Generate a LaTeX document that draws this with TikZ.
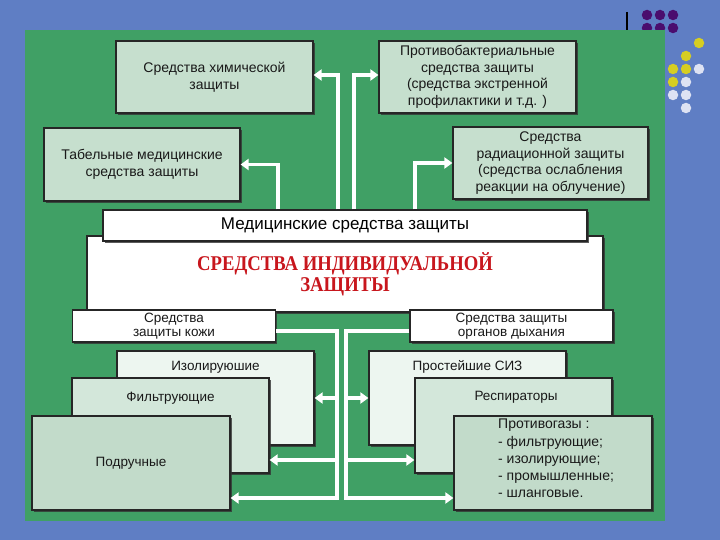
\documentclass[tikz,border=0pt]{standalone}
\usepackage{fontspec}
\setmainfont{Liberation Sans}
\newfontfamily\titlefont[FakeStretch=0.89]{Liberation Serif}
\usetikzlibrary{arrows.meta,shadows}
\definecolor{slideblue}{HTML}{5F7EC4}
\definecolor{panelgreen}{HTML}{40A065}
\definecolor{boxgreen}{HTML}{C6DFCE}
\definecolor{palegreen}{HTML}{EDF6F0}
\definecolor{midgreen}{HTML}{D3E7DA}
\definecolor{deepgreen}{HTML}{C2DBCA}
\definecolor{titlered}{HTML}{C8161D}
\definecolor{dotpurple}{HTML}{4A0D6E}
\definecolor{dotyellow}{HTML}{D6CE22}
\definecolor{dotwhite}{HTML}{DDE2F3}
\begin{document}
\begin{tikzpicture}[x=1pt,y=-1pt,
  box/.style={draw=black!85,line width=1.2pt,inner sep=0pt,align=center,text=black!90,
    font=\fontsize{14}{16.5}\selectfont,
    drop shadow={shadow xshift=1.8pt,shadow yshift=-1.8pt,fill=black!80,opacity=.8}},
  txt/.style={inner sep=0pt,text=black!90,font=\fontsize{13.5}{16}\selectfont},
  flow/.style={draw=white,line width=3.8pt,-{Triangle[length=8pt,width=11pt]}},
  dot/.style={circle,inner sep=0pt,minimum size=10.5pt}]
\useasboundingbox (0,0) rectangle (720,540);
\fill[slideblue] (0,0) rectangle (720,540);

\foreach \x/\y in {647/15,660/15,673/15,647/28,660/28,673/28}
  \node[dot,fill=dotpurple] at (\x,\y) {};
\foreach \x/\y in {699/43,686/56,673/69,686/69,673/82}
  \node[dot,fill=dotyellow] at (\x,\y) {};
\foreach \x/\y in {699/69,686/82,673/95,686/95,686/108}
  \node[dot,fill=dotwhite] at (\x,\y) {};
\draw[line width=1.5pt] (627,12) -- (627,30);
\fill[panelgreen] (25,30) rectangle (665,521);

\node[box,fill=boxgreen,minimum width=197pt,minimum height=72pt] (chem) at (214.5,77) {Средства химической\\защиты};
\node[box,fill=boxgreen,minimum width=196pt,minimum height=73pt] (tabel) at (142,164.5) {Табельные медицинские\\средства защиты};
\node[box,fill=boxgreen,minimum width=197pt,minimum height=72pt] (bact) at (477.5,77) {Противобактериальные\\средства защиты\\(средства экстренной\\профилактики и т.д. )};
\node[box,fill=boxgreen,minimum width=195pt,minimum height=72pt] (rad) at (550.5,163) {Средства\\радиационной защиты\\(средства ослабления\\реакции на облучение)};

\node[box,fill=white,minimum width=516pt,minimum height=76pt,text=titlered,
  font=\titlefont\bfseries\fontsize{21}{21}\selectfont] (siz) at (345,274) {СРЕДСТВА ИНДИВИДУАЛЬНОЙ\\ЗАЩИТЫ};
\node[box,fill=white,minimum width=484pt,minimum height=31pt,text=black,
  font=\fontsize{17}{20}\selectfont] (med) at (345,225.5) {Медицинские средства защиты};
\node[box,fill=white,minimum width=203pt,minimum height=32pt,
  font=\fontsize{13.5}{13.5}\selectfont] (skin) at (174,326) {Средства\\защиты кожи};
\node[box,fill=white,minimum width=203pt,minimum height=32pt,
  font=\fontsize{13.5}{13.5}\selectfont] (breath) at (511.5,326) {Средства защиты\\органов дыхания};

\node[box,fill=palegreen,minimum width=197pt,minimum height=94pt] (izol) at (215.5,398) {};
\node[txt] (izol-t) at (215.5,367) {Изолируюшие};
\node[box,fill=midgreen,minimum width=197pt,minimum height=95pt] (filt) at (170.5,425.5) {};
\node[txt] (filt-t) at (170.5,398) {Фильтрующие};
\node[box,fill=deepgreen,minimum width=198pt,minimum height=94pt,
  font=\fontsize{13.5}{16}\selectfont] (podr) at (131,463) {Подручные};

\node[box,fill=palegreen,minimum width=197pt,minimum height=94pt] (prost) at (467.5,398) {};
\node[txt] (prost-t) at (467.5,367) {Простейшие СИЗ};
\node[box,fill=midgreen,minimum width=197pt,minimum height=95pt] (respir) at (513.5,425.5) {};
\node[txt] (respir-t) at (516,397) {Респираторы};
\node[box,fill=deepgreen,minimum width=198pt,minimum height=94pt] (gas) at (553,463) {};
\node[txt,anchor=north west,align=left,font=\fontsize{14}{17.2}\selectfont] (gas-t) at (498,419)
  {Противогазы :\\- фильтрующие;\\- изолирующие;\\- промышленные;\\- шланговые.};

\draw[flow] ([xshift=-7pt]med.north) |- ([yshift=2pt]chem.east);
\draw[flow] ([xshift=9pt]med.north) |- ([yshift=2pt]bact.west);
\draw[flow] ([xshift=-67pt]med.north) |- (tabel.east);
\draw[flow] ([xshift=70pt]med.north) |- (rad.west);

\coordinate (l1) at (337,398);
\coordinate (l2) at (337,460);
\coordinate (l3) at (337,498);
\coordinate (r1) at (346,398);
\coordinate (r2) at (346,460);
\coordinate (r3) at (346,498);
\draw[flow] ([yshift=-5pt]skin.east) -| (l3) -- (l3 -| podr.east);
\draw[flow] (l1) -- (izol.east);
\draw[flow] (l2) -- (l2 -| filt.east);
\draw[flow] ([yshift=-5pt]breath.west) -| (r3) -- (r3 -| gas.west);
\draw[flow] (r1) -- (prost.west);
\draw[flow] (r2) -- (r2 -| respir.west);
\end{tikzpicture}
\end{document}
